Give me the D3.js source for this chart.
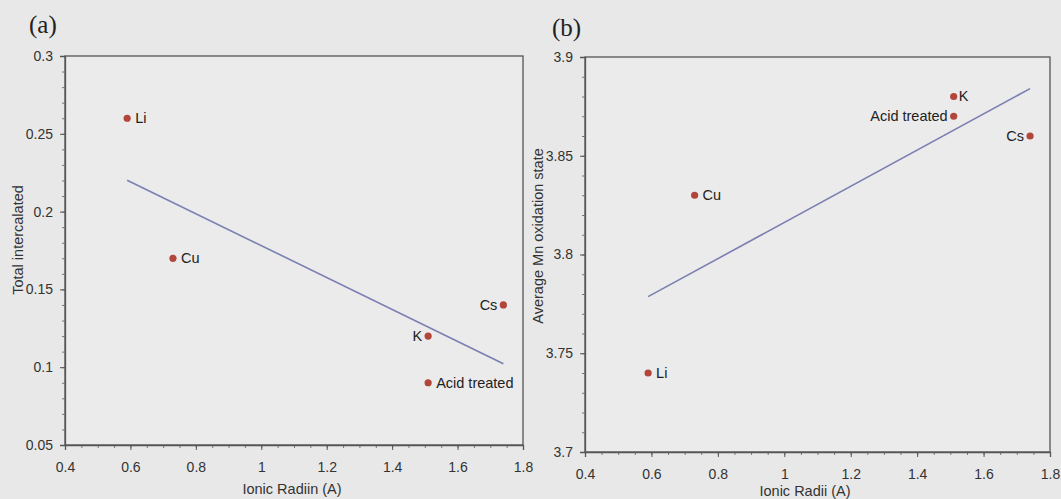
<!DOCTYPE html>
<html>
<head>
<meta charset="utf-8">
<script src="https://cdn.jsdelivr.net/npm/d3@7"></script>
<style>
  html, body { margin: 0; padding: 0; background: #e8e8e8; }
  svg { display: block; }
</style>
</head>
<body>
<div id="chart"></div>
<script>
// ---- Data ----
const ions = ['Li', 'Cu', 'K', 'Acid treated', 'Cs'];
const ionicRadii = [0.59, 0.73, 1.51, 1.51, 1.74];
const totalIntercalated = [0.26, 0.17, 0.12, 0.09, 0.14];
const mnOxidation = [3.74, 3.83, 3.88, 3.87, 3.86];

const xTicks = [0.4, 0.6, 0.8, 1, 1.2, 1.4, 1.6, 1.8];
const yTicksA = [0.05, 0.1, 0.15, 0.2, 0.25, 0.3];
const yTicksB = [3.7, 3.75, 3.8, 3.85, 3.9];

const W = 1061, H = 499;
const svg = d3.select('#chart').append('svg').attr('width', W).attr('height', H);
svg.append('rect').attr('width', W).attr('height', H).attr('fill', '#e8e8e8');

const font = 'Liberation Sans, Arial, sans-serif';

// least squares fit, same as the spreadsheet trendline
function fit(xs, ys) {
  const mx = d3.mean(xs), my = d3.mean(ys);
  const sxy = d3.sum(xs, (x, i) => (x - mx) * (ys[i] - my));
  const sxx = d3.sum(xs, x => (x - mx) * (x - mx));
  const m = sxy / sxx;
  return x => my + m * (x - mx);
}

function drawPanel(p) {
  const x = d3.scaleLinear().domain([0.4, 1.8]).range([p.left, p.right]);
  const y = d3.scaleLinear().domain(p.yDomain).range([p.bottom, p.top]);
  const g = svg.append('g');

  // frame
  g.append('rect')
    .attr('x', p.left).attr('y', p.top)
    .attr('width', p.right - p.left).attr('height', p.bottom - p.top)
    .attr('fill', '#ebebeb').attr('stroke', '#555').attr('stroke-width', 1.3);

  // minor ticks
  g.append('g')
    .attr('transform', `translate(0,${p.bottom})`)
    .call(d3.axisBottom(x).tickValues(d3.range(0.45, 1.8, 0.05)).tickSize(3).tickFormat(''))
    .call(a => a.select('.domain').remove())
    .selectAll('line').attr('stroke', '#777');
  g.append('g')
    .attr('transform', `translate(${p.left},0)`)
    .call(d3.axisLeft(y).tickValues(d3.range(p.yDomain[0] + 0.01, p.yDomain[1], 0.01)).tickSize(3).tickFormat(''))
    .call(a => a.select('.domain').remove())
    .selectAll('line').attr('stroke', '#777');

  // major axes
  const xa = g.append('g')
    .attr('transform', `translate(0,${p.bottom})`)
    .call(d3.axisBottom(x).tickValues(xTicks).tickSize(5).tickPadding(12).tickFormat(d3.format('~g')));
  const ya = g.append('g')
    .attr('transform', `translate(${p.left},0)`)
    .call(d3.axisLeft(y).tickValues(p.yTicks).tickSize(5).tickPadding(7).tickFormat(d3.format('~g')));
  [xa, ya].forEach(a => {
    a.select('.domain').attr('stroke', '#555').attr('stroke-width', 1.3);
    a.selectAll('line').attr('stroke', '#555');
    a.selectAll('text').attr('font-family', font).attr('font-size', '14px').attr('fill', '#333');
  });

  // trend line
  const f = fit(ionicRadii, p.values);
  const x0 = d3.min(ionicRadii), x1 = d3.max(ionicRadii);
  g.append('line')
    .attr('x1', x(x0)).attr('y1', y(f(x0)))
    .attr('x2', x(x1)).attr('y2', y(f(x1)))
    .attr('stroke', '#7b7fb2').attr('stroke-width', 1.6);

  // points + labels
  ions.forEach((name, i) => {
    const px = x(ionicRadii[i]), py = y(p.values[i]);
    g.append('circle').attr('cx', px).attr('cy', py).attr('r', 3.6).attr('fill', '#b2463b');
    const left = p.leftLabels.includes(name);
    g.append('text')
      .attr('x', left ? px - 6 : px + (p.tight.includes(name) ? 5 : 8))
      .attr('y', py + 1)
      .attr('text-anchor', left ? 'end' : 'start')
      .attr('dominant-baseline', 'middle')
      .attr('font-family', font).attr('font-size', '14.5px').attr('fill', '#222')
      .text(name);
  });

  // axis titles
  g.append('text')
    .attr('x', p.xTitleX).attr('y', p.xTitleY)
    .attr('text-anchor', 'middle')
    .attr('font-family', font).attr('font-size', '14.5px').attr('fill', '#333')
    .text(p.xTitle);
  g.append('text')
    .attr('transform', `translate(${p.yTitleX},${p.yTitleY}) rotate(-90)`)
    .attr('text-anchor', 'middle')
    .attr('font-family', font).attr('font-size', '14.5px').attr('fill', '#333')
    .text(p.yTitle);

  // panel tag
  g.append('text')
    .attr('x', p.tagX).attr('y', p.tagY)
    .attr('font-family', 'Liberation Serif, Times New Roman, serif')
    .attr('font-size', '25px').attr('fill', '#222')
    .text(p.tag);
}

drawPanel({
  tag: '(a)', tagX: 29, tagY: 33,
  left: 65, right: 523, top: 56, bottom: 445,
  yDomain: [0.05, 0.3], yTicks: yTicksA,
  values: totalIntercalated,
  leftLabels: ['K', 'Cs'], tight: [],
  xTitle: 'Ionic Radiin (A)', xTitleX: 292, xTitleY: 494,
  yTitle: 'Total intercalated', yTitleX: 23, yTitleY: 240
});

drawPanel({
  tag: '(b)', tagX: 552, tagY: 36,
  left: 585, right: 1050, top: 57, bottom: 452,
  yDomain: [3.7, 3.9], yTicks: yTicksB,
  values: mnOxidation,
  leftLabels: ['Acid treated', 'Cs'], tight: ['K'],
  xTitle: 'Ionic Radii (A)', xTitleX: 805, xTitleY: 496,
  yTitle: 'Average Mn oxidation state', yTitleX: 543, yTitleY: 236
});
</script>
</body>
</html>
